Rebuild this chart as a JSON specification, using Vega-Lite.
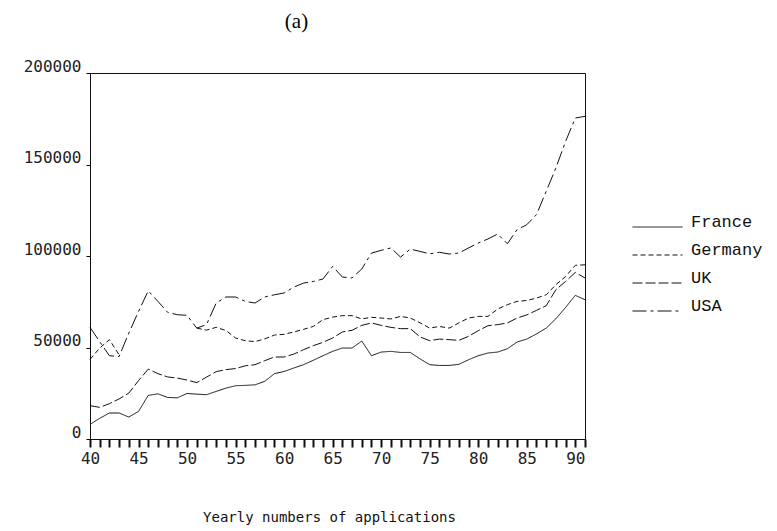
{
  "$schema": "https://vega.github.io/schema/vega-lite/v6.json",
  "width": 495,
  "height": 366,
  "autosize": {"type": "none"},
  "padding": {"left": 90, "top": 73, "right": 192, "bottom": 92},
  "background": "white",
  "title": {"text": "(a)", "font": "Liberation Serif", "fontSize": 21, "fontWeight": "normal", "color": "#000", "dx": -41, "offset": 26},
  "data": {"values": [
    {"year":40,"country":"France","value":8000},{"year":41,"country":"France","value":11300},{"year":42,"country":"France","value":14200},{"year":43,"country":"France","value":14200},{"year":44,"country":"France","value":12000},{"year":45,"country":"France","value":15100},{"year":46,"country":"France","value":23800},{"year":47,"country":"France","value":24700},{"year":48,"country":"France","value":22700},{"year":49,"country":"France","value":22500},{"year":50,"country":"France","value":24900},{"year":51,"country":"France","value":24500},{"year":52,"country":"France","value":24200},{"year":53,"country":"France","value":26000},{"year":54,"country":"France","value":27800},{"year":55,"country":"France","value":29100},{"year":56,"country":"France","value":29300},{"year":57,"country":"France","value":29600},{"year":58,"country":"France","value":31500},{"year":59,"country":"France","value":35700},{"year":60,"country":"France","value":36900},{"year":61,"country":"France","value":38800},{"year":62,"country":"France","value":40600},{"year":63,"country":"France","value":43000},{"year":64,"country":"France","value":45500},{"year":65,"country":"France","value":47900},{"year":66,"country":"France","value":49700},{"year":67,"country":"France","value":49700},{"year":68,"country":"France","value":53500},{"year":69,"country":"France","value":45500},{"year":70,"country":"France","value":47500},{"year":71,"country":"France","value":47900},{"year":72,"country":"France","value":47300},{"year":73,"country":"France","value":47300},{"year":74,"country":"France","value":43800},{"year":75,"country":"France","value":40600},{"year":76,"country":"France","value":40200},{"year":77,"country":"France","value":40200},{"year":78,"country":"France","value":40800},{"year":79,"country":"France","value":43300},{"year":80,"country":"France","value":45500},{"year":81,"country":"France","value":47000},{"year":82,"country":"France","value":47500},{"year":83,"country":"France","value":49300},{"year":84,"country":"France","value":53000},{"year":85,"country":"France","value":54600},{"year":86,"country":"France","value":57400},{"year":87,"country":"France","value":60600},{"year":88,"country":"France","value":65700},{"year":89,"country":"France","value":71900},{"year":90,"country":"France","value":78500},{"year":91,"country":"France","value":76100},
    {"year":40,"country":"Germany","value":43500},{"year":41,"country":"Germany","value":49700},{"year":42,"country":"Germany","value":54300},{"year":43,"country":"Germany","value":46000},{"year":44,"country":"Germany","value":null},{"year":45,"country":"Germany","value":null},{"year":46,"country":"Germany","value":null},{"year":47,"country":"Germany","value":null},{"year":48,"country":"Germany","value":null},{"year":49,"country":"Germany","value":null},{"year":50,"country":"Germany","value":null},{"year":51,"country":"Germany","value":60600},{"year":52,"country":"Germany","value":59500},{"year":53,"country":"Germany","value":61000},{"year":54,"country":"Germany","value":59300},{"year":55,"country":"Germany","value":55200},{"year":56,"country":"Germany","value":53700},{"year":57,"country":"Germany","value":53200},{"year":58,"country":"Germany","value":54700},{"year":59,"country":"Germany","value":56800},{"year":60,"country":"Germany","value":57200},{"year":61,"country":"Germany","value":58500},{"year":62,"country":"Germany","value":59900},{"year":63,"country":"Germany","value":61500},{"year":64,"country":"Germany","value":65200},{"year":65,"country":"Germany","value":66600},{"year":66,"country":"Germany","value":67400},{"year":67,"country":"Germany","value":67400},{"year":68,"country":"Germany","value":65600},{"year":69,"country":"Germany","value":66500},{"year":70,"country":"Germany","value":66100},{"year":71,"country":"Germany","value":65600},{"year":72,"country":"Germany","value":67000},{"year":73,"country":"Germany","value":66100},{"year":74,"country":"Germany","value":63500},{"year":75,"country":"Germany","value":60600},{"year":76,"country":"Germany","value":61500},{"year":77,"country":"Germany","value":60600},{"year":78,"country":"Germany","value":63400},{"year":79,"country":"Germany","value":66100},{"year":80,"country":"Germany","value":67000},{"year":81,"country":"Germany","value":67000},{"year":82,"country":"Germany","value":71000},{"year":83,"country":"Germany","value":73400},{"year":84,"country":"Germany","value":75200},{"year":85,"country":"Germany","value":75700},{"year":86,"country":"Germany","value":77000},{"year":87,"country":"Germany","value":78800},{"year":88,"country":"Germany","value":84300},{"year":89,"country":"Germany","value":88800},{"year":90,"country":"Germany","value":94900},{"year":91,"country":"Germany","value":95200},
    {"year":40,"country":"UK","value":18200},{"year":41,"country":"UK","value":17300},{"year":42,"country":"UK","value":19300},{"year":43,"country":"UK","value":21900},{"year":44,"country":"UK","value":25100},{"year":45,"country":"UK","value":31900},{"year":46,"country":"UK","value":38200},{"year":47,"country":"UK","value":35700},{"year":48,"country":"UK","value":33900},{"year":49,"country":"UK","value":33300},{"year":50,"country":"UK","value":32200},{"year":51,"country":"UK","value":30800},{"year":52,"country":"UK","value":33800},{"year":53,"country":"UK","value":36800},{"year":54,"country":"UK","value":37900},{"year":55,"country":"UK","value":38500},{"year":56,"country":"UK","value":40000},{"year":57,"country":"UK","value":40600},{"year":58,"country":"UK","value":42800},{"year":59,"country":"UK","value":44800},{"year":60,"country":"UK","value":44800},{"year":61,"country":"UK","value":46400},{"year":62,"country":"UK","value":48800},{"year":63,"country":"UK","value":51000},{"year":64,"country":"UK","value":52800},{"year":65,"country":"UK","value":55200},{"year":66,"country":"UK","value":58500},{"year":67,"country":"UK","value":59400},{"year":68,"country":"UK","value":62100},{"year":69,"country":"UK","value":63400},{"year":70,"country":"UK","value":62100},{"year":71,"country":"UK","value":61000},{"year":72,"country":"UK","value":60300},{"year":73,"country":"UK","value":60300},{"year":74,"country":"UK","value":55800},{"year":75,"country":"UK","value":53700},{"year":76,"country":"UK","value":54600},{"year":77,"country":"UK","value":54300},{"year":78,"country":"UK","value":53900},{"year":79,"country":"UK","value":56100},{"year":80,"country":"UK","value":59200},{"year":81,"country":"UK","value":61900},{"year":82,"country":"UK","value":62500},{"year":83,"country":"UK","value":63400},{"year":84,"country":"UK","value":66100},{"year":85,"country":"UK","value":67800},{"year":86,"country":"UK","value":70300},{"year":87,"country":"UK","value":72800},{"year":88,"country":"UK","value":81600},{"year":89,"country":"UK","value":86100},{"year":90,"country":"UK","value":91000},{"year":91,"country":"UK","value":88000},
    {"year":40,"country":"USA","value":61000},{"year":41,"country":"USA","value":53200},{"year":42,"country":"USA","value":45500},{"year":43,"country":"USA","value":45100},{"year":44,"country":"USA","value":57900},{"year":45,"country":"USA","value":69700},{"year":46,"country":"USA","value":81000},{"year":47,"country":"USA","value":75200},{"year":48,"country":"USA","value":69200},{"year":49,"country":"USA","value":67900},{"year":50,"country":"USA","value":67600},{"year":51,"country":"USA","value":60600},{"year":52,"country":"USA","value":62500},{"year":53,"country":"USA","value":74300},{"year":54,"country":"USA","value":77600},{"year":55,"country":"USA","value":77600},{"year":56,"country":"USA","value":75200},{"year":57,"country":"USA","value":74300},{"year":58,"country":"USA","value":77600},{"year":59,"country":"USA","value":78800},{"year":60,"country":"USA","value":79800},{"year":61,"country":"USA","value":83000},{"year":62,"country":"USA","value":85200},{"year":63,"country":"USA","value":86100},{"year":64,"country":"USA","value":87400},{"year":65,"country":"USA","value":94300},{"year":66,"country":"USA","value":88500},{"year":67,"country":"USA","value":88000},{"year":68,"country":"USA","value":92900},{"year":69,"country":"USA","value":101600},{"year":70,"country":"USA","value":103100},{"year":71,"country":"USA","value":104400},{"year":72,"country":"USA","value":99400},{"year":73,"country":"USA","value":103800},{"year":74,"country":"USA","value":102500},{"year":75,"country":"USA","value":101200},{"year":76,"country":"USA","value":102000},{"year":77,"country":"USA","value":101100},{"year":78,"country":"USA","value":101600},{"year":79,"country":"USA","value":104400},{"year":80,"country":"USA","value":107100},{"year":81,"country":"USA","value":109300},{"year":82,"country":"USA","value":112000},{"year":83,"country":"USA","value":106700},{"year":84,"country":"USA","value":114400},{"year":85,"country":"USA","value":117100},{"year":86,"country":"USA","value":122600},{"year":87,"country":"USA","value":135300},{"year":88,"country":"USA","value":148100},{"year":89,"country":"USA","value":162600},{"year":90,"country":"USA","value":175400},{"year":91,"country":"USA","value":176300}
  ]},
  "mark": {"type": "line", "strokeWidth": 1, "color": "#111", "invalid": "break-paths-show-domains"},
  "encoding": {
    "x": {"field": "year", "type": "quantitative",
      "scale": {"domain": [40, 91], "nice": false, "zero": false},
      "axis": {"orient": "bottom",
        "values": [40,41,42,43,44,45,46,47,48,49,50,51,52,53,54,55,56,57,58,59,60,61,62,63,64,65,66,67,68,69,70,71,72,73,74,75,76,77,78,79,80,81,82,83,84,85,86,87,88,89,90,91],
        "labelExpr": "datum.value % 5 === 0 ? datum.label : ''",
        "ticks": true, "tickSize": 8,
        "tickColor": "#111", "tickWidth": 2, "tickOpacity": 1,
        "labelPadding": 3, "labelFlush": false, "labelOverlap": false,
        "labelFont": "DejaVu Sans Mono", "labelFontSize": 16, "labelColor": "#222",
        "title": "Yearly numbers of applications", "titleFont": "DejaVu Sans Mono", "titleFontSize": 14, "titleFontWeight": "normal", "titleColor": "#111", "titlePadding": 44, "titleX": 239, "titleAlign": "center"}},
    "y": {"field": "value", "type": "quantitative",
      "scale": {"domain": [0, 200000], "nice": false},
      "axis": {"values": [0, 50000, 100000, 150000, 200000], "format": "d", "tickSize": 4, "tickColor": "#000", "tickWidth": 1, "labelPadding": 5, "labelFlush": false,
        "labelFont": "DejaVu Sans Mono", "labelFontSize": 16, "labelColor": "#222", "labelBaseline": "alphabetic", "labelOffset": -2, "title": null}},
    "strokeDash": {"field": "country", "type": "nominal",
      "scale": {"domain": ["France", "Germany", "UK", "USA"], "range": [[1, 0], [5, 3], [10, 3], [14, 4, 3, 4]]},
      "legend": {"orient": "none", "legendX": 542, "legendY": 140, "title": null, "padding": 0,
        "symbolType": "stroke", "symbolSize": 2500, "symbolStrokeWidth": 1, "symbolStrokeColor": "#111",
        "labelFont": "Liberation Mono", "labelFontSize": 17, "labelColor": "#111", "labelOffset": 8, "labelBaseline": "alphabetic", "rowPadding": 0, "clipHeight": 28}}
  },
  "config": {
    "view": {"stroke": "#111", "strokeWidth": 1},
    "axis": {"grid": false, "domainColor": "#111", "domainWidth": 1}
  }
}
